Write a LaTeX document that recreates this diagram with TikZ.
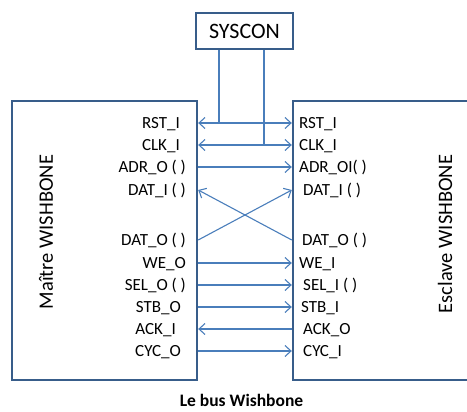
\documentclass[tikz,border=0pt]{standalone}
\usepackage{fontspec}
\setmainfont{Carlito}
\usetikzlibrary{arrows.meta, positioning}
\definecolor{boxblue}{HTML}{385D8A}
\definecolor{wireblue}{HTML}{4A7EBB}

\begin{document}
\begin{tikzpicture}[x=1pt, y=-1pt,
        unit/.style = {draw=boxblue, line width=2.4pt, inner sep=0pt},
        sig/.style = {font=\fontsize{17}{20}\selectfont, inner sep=0pt, text height=11pt, text depth=0pt},
        side/.style = {rotate=90, font=\fontsize{20.5}{24}\selectfont, inner sep=0pt},
        wire/.style = {draw=wireblue, line width=1.1pt},
        >={Straight Barb[length=6pt, width=11pt]},
      ]
      \useasboundingbox (0,0) rectangle (467,412);
      \node[unit, minimum width=185pt, minimum height=279pt] (master) at (104.5,240.5) {};
      \node[unit, minimum width=187pt, minimum height=279pt] (slave) at (386.5,240.5) {};
      \node[unit, minimum width=97pt, minimum height=36pt, font=\fontsize{22}{26}\selectfont] (syscon) at (244.5,31) {SYSCON};
      \node[side] (mname) at (46,232) {Maître WISHBONE};
      \node[side] (sname) at (445,234) {Esclave WISHBONE};
      \node[font=\bfseries\fontsize{17.5}{21}\selectfont, inner sep=0pt] (caption) at (241.5,400) {Le bus Wishbone};
      % signal names on both sides
      \foreach \id/\y/\lx/\ltext/\rx/\rtext in {
          rst/123/180/RST\_I/299/RST\_I,
          clk/145/180/CLK\_I/299/CLK\_I,
          adr/167/186/ADR\_O ( )/299/ADR\_OI( ),
          dati/190/186/DAT\_I ( )/303/DAT\_I ( ),
          dato/240/186/DAT\_O ( )/302/DAT\_O ( ),
          we/263/186/WE\_O/299/WE\_I,
          sel/285/186/SEL\_O ( )/303/SEL\_I ( ),
          stb/307/181/STB\_O/301/STB\_I,
          ack/329/176/ACK\_I/303/ACK\_O,
          cyc/351/181/CYC\_O/303/CYC\_I}{
        \node[sig, anchor=east] (m-\id) at (\lx,\y) {\ltext};
        \node[sig, anchor=west] (s-\id) at (\rx,\y) {\rtext};
      }
      % connectors
      \draw[wire, <->] (master.east |- m-rst) -- (slave.west |- m-rst);
      \draw[wire, <->] (master.east |- m-clk) -- (slave.west |- m-clk);
      \draw[wire] ([xshift=-25.5pt]syscon.south) -- ([xshift=-25.5pt]syscon.south |- m-rst);
      \draw[wire] ([xshift=19.5pt]syscon.south) -- ([xshift=19.5pt]syscon.south |- m-clk);
      \draw[wire, ->] (master.east |- m-adr) -- (slave.west |- m-adr);
      \draw[wire, ->] (master.east |- m-dato) -- (slave.west |- s-dati);
      \draw[wire, ->] (slave.west |- s-dato) -- (master.east |- m-dati);
      \draw[wire, ->] (master.east |- m-we) -- (slave.west |- m-we);
      \draw[wire, ->] (master.east |- m-sel) -- (slave.west |- m-sel);
      \draw[wire, ->] (master.east |- m-stb) -- (slave.west |- m-stb);
      \draw[wire, <-] (master.east |- m-ack) -- (slave.west |- m-ack);
      \draw[wire, ->] (master.east |- m-cyc) -- (slave.west |- m-cyc);
    \end{tikzpicture}
\end{document}
